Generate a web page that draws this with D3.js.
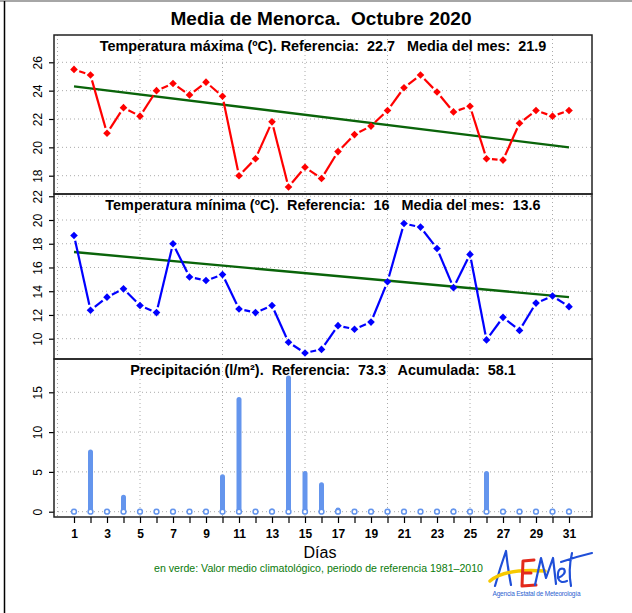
<!DOCTYPE html>
<html>
<head>
<meta charset="utf-8">
<script src="https://cdn.jsdelivr.net/npm/d3@7"></script>
<style>
    body { margin: 0; background: #ffffff; }
    text { font-family: "Liberation Sans", Arial, sans-serif; white-space: pre; }
</style>
</head>
<body>
<svg id="chart" width="632" height="613"></svg>
<script>
// Days of the month
var days = d3.range(1, 32);

// Daily maximum temperature (ºC)
var tmax = [25.5, 25.1, 21.0, 22.8, 22.2, 24.0, 24.5, 23.7, 24.6, 23.6,
            18.0, 19.2, 21.8, 17.2, 18.6, 17.8, 19.7, 20.9, 21.5, 22.6,
            24.2, 25.1, 23.9, 22.5, 22.9, 19.2, 19.1, 21.7, 22.6, 22.2, 22.6];

// Daily minimum temperature (ºC)
var tmin = [18.7, 12.4, 13.5, 14.2, 12.8, 12.2, 18.0, 15.2, 14.9, 15.4,
            12.5, 12.2, 12.8, 9.7, 8.8, 9.1, 11.1, 10.8, 11.4, 14.8,
            19.7, 19.4, 17.6, 14.3, 17.1, 9.9, 11.8, 10.7, 13.0, 13.6, 12.7];

// Daily precipitation (l/m2)
var precip = [0, 7.5, 0, 1.8, 0, 0, 0, 0, 0, 4.4,
              14.1, 0, 0.1, 16.8, 4.8, 3.4, 0.2, 0, 0, 0,
              0, 0, 0, 0.1, 0, 4.8, 0, 0, 0, 0, 0.1];

// Climatological reference (green line), first and last day
var normalDays = [1, 31];
var tmaxNormal = [24.3, 20.0];
var tminNormal = [17.3, 13.5];

// Tick values
var tmaxTicks = [18, 20, 22, 24, 26];
var tminTicks = [10, 12, 14, 16, 18, 20, 22];
var precipTicks = [0, 5, 10, 15];
var gridDays = [0, 5, 10, 15, 20, 25, 30];

// Texts
var mainTitle = "Media de Menorca.  Octubre 2020";
var panelTitles = [
    "Temperatura máxima (ºC). Referencia:  22.7   Media del mes:  21.9",
    "Temperatura mínima (ºC).  Referencia:  16   Media del mes:  13.6",
    "Precipitación (l/m²).  Referencia:  73.3   Acumulada:  58.1"
];

var svg = d3.select("#chart");

var plotLeft = 54;
var plotRight = 592;

// Panels (top, bottom in pixels)
var panels = [
    { top: 35, bottom: 194 },
    { top: 194, bottom: 359 },
    { top: 359, bottom: 517 }
];

var xScale = d3.scaleLinear()
    .domain([1, 31])
    .range([74, 569]);

var yMax = d3.scaleLinear().domain([18, 26]).range([175.7, 62.3]);
var yMin = d3.scaleLinear().domain([10, 20]).range([338.7, 220]);
var yPrec = d3.scaleLinear().domain([0, 15]).range([511.7, 392.3]);

// Outer border of the image
svg.append("line")
    .attr("x1", 0).attr("x2", 632).attr("y1", 1).attr("y2", 1)
    .attr("stroke", "#888").attr("stroke-width", 1.5);
svg.append("line")
    .attr("x1", 4.5).attr("x2", 4.5).attr("y1", 1).attr("y2", 613)
    .attr("stroke", "#000").attr("stroke-width", 1.5);

// Main title
svg.append("text")
    .attr("x", 321)
    .attr("y", 25)
    .attr("text-anchor", "middle")
    .attr("font-size", 19)
    .attr("font-weight", "bold")
    .text(mainTitle);

function drawGrid(panel, yScale, ticks) {
    /*
    Draws the dotted grid of one panel
    */
    var grid = svg.append("g").attr("class", "grid");

    grid.selectAll(".vgrid")
        .data(gridDays)
        .enter()
        .append("line")
        .attr("x1", function(d) { return xScale(d); })
        .attr("x2", function(d) { return xScale(d); })
        .attr("y1", panel.top)
        .attr("y2", panel.bottom)
        .attr("stroke", "#aaa")
        .attr("stroke-width", 1)
        .attr("stroke-dasharray", "1,3");

    grid.selectAll(".hgrid")
        .data(ticks)
        .enter()
        .append("line")
        .attr("x1", plotLeft)
        .attr("x2", plotRight)
        .attr("y1", function(d) { return yScale(d); })
        .attr("y2", function(d) { return yScale(d); })
        .attr("stroke", "#aaa")
        .attr("stroke-width", 1)
        .attr("stroke-dasharray", "1,3");
}

function drawYAxis(yScale, ticks) {
    /*
    Draws a left axis with rotated labels
    */
    var axis = svg.append("g")
        .attr("class", "axis")
        .attr("transform", `translate(${plotLeft}, 0)`)
        .call(d3.axisLeft(yScale).tickValues(ticks).tickSize(5).tickSizeOuter(0));

    axis.select(".domain").remove();
    axis.selectAll("line").attr("stroke", "#000").attr("stroke-width", 1.2);
    axis.selectAll("text")
        .attr("x", 0)
        .attr("dy", 0)
        .attr("transform", "translate(-12, 0) rotate(-90)")
        .attr("text-anchor", "middle")
        .attr("font-size", 12)
        .attr("font-family", "Liberation Sans, Arial, sans-serif")
        .attr("fill", "#000");
}

function drawTitle(panel, text, dy) {
    svg.append("text")
        .attr("x", (plotLeft + plotRight) / 2)
        .attr("y", panel.top + dy)
        .attr("text-anchor", "middle")
        .attr("font-size", 14.4)
        .attr("font-weight", "bold")
        .text(text);
}

function diamond(x, y, r) {
    return `M${x},${y - r}L${x + r},${y}L${x},${y + r}L${x - r},${y}Z`;
}

function drawSeries(values, yScale, colour) {
    /*
    Draws a line with gaps around the points (R type "b")
    */
    var gap = 5.5;
    var pairs = d3.pairs(values.map(function(v, i) {
        return [xScale(days[i]), yScale(v)];
    }));

    svg.append("g").selectAll("line")
        .data(pairs.filter(function(p) {
            return Math.hypot(p[1][0] - p[0][0], p[1][1] - p[0][1]) > 2 * gap;
        }))
        .enter()
        .append("line")
        .attr("x1", function(p) {
            var len = Math.hypot(p[1][0] - p[0][0], p[1][1] - p[0][1]);
            return p[0][0] + (p[1][0] - p[0][0]) * gap / len;
        })
        .attr("y1", function(p) {
            var len = Math.hypot(p[1][0] - p[0][0], p[1][1] - p[0][1]);
            return p[0][1] + (p[1][1] - p[0][1]) * gap / len;
        })
        .attr("x2", function(p) {
            var len = Math.hypot(p[1][0] - p[0][0], p[1][1] - p[0][1]);
            return p[1][0] - (p[1][0] - p[0][0]) * gap / len;
        })
        .attr("y2", function(p) {
            var len = Math.hypot(p[1][0] - p[0][0], p[1][1] - p[0][1]);
            return p[1][1] - (p[1][1] - p[0][1]) * gap / len;
        })
        .attr("stroke", colour)
        .attr("stroke-width", 2.2);

    svg.append("g").selectAll("path")
        .data(values)
        .enter()
        .append("path")
        .attr("d", function(v, i) { return diamond(xScale(days[i]), yScale(v), 3.8); })
        .attr("fill", colour);
}

function drawNormal(values, yScale) {
    var line = d3.line()
        .x(function(v, i) { return xScale(normalDays[i]); })
        .y(function(v) { return yScale(v); });

    svg.append("path")
        .datum(values)
        .attr("d", line)
        .attr("fill", "none")
        .attr("stroke", "#0a640a")
        .attr("stroke-width", 2.4);
}

// Panel 1: maximum temperature
drawGrid(panels[0], yMax, tmaxTicks);
drawYAxis(yMax, tmaxTicks);
drawTitle(panels[0], panelTitles[0], 15.5);
drawNormal(tmaxNormal, yMax);
drawSeries(tmax, yMax, "#ff0000");

// Panel 2: minimum temperature
drawGrid(panels[1], yMin, tminTicks);
drawYAxis(yMin, tminTicks);
drawTitle(panels[1], panelTitles[1], 16);
drawNormal(tminNormal, yMin);
drawSeries(tmin, yMin, "#0000ff");

// Panel 3: precipitation
drawGrid(panels[2], yPrec, precipTicks);
drawYAxis(yPrec, precipTicks);
drawTitle(panels[2], panelTitles[2], 16);

var barColour = "#6495ed";

svg.append("g").selectAll("line")
    .data(precip.map(function(v, i) { return { day: days[i], value: v }; })
        .filter(function(d) { return d.value > 0; }))
    .enter()
    .append("line")
    .attr("x1", function(d) { return xScale(d.day); })
    .attr("x2", function(d) { return xScale(d.day); })
    .attr("y1", yPrec(0))
    .attr("y2", function(d) { return yPrec(d.value); })
    .attr("stroke", barColour)
    .attr("stroke-width", 5)
    .attr("stroke-linecap", "round");

svg.append("g").selectAll("circle")
    .data(precip)
    .enter()
    .append("circle")
    .attr("cx", function(v, i) { return xScale(days[i]); })
    .attr("cy", yPrec(0))
    .attr("r", 2.4)
    .attr("fill", "#ffffff")
    .attr("stroke", barColour)
    .attr("stroke-width", 1.5);

// Panel frames
panels.forEach(function(panel) {
    svg.append("rect")
        .attr("x", plotLeft)
        .attr("y", panel.top)
        .attr("width", plotRight - plotLeft)
        .attr("height", panel.bottom - panel.top)
        .attr("fill", "none")
        .attr("stroke", "#222")
        .attr("stroke-width", 1.5);
});

// x-axis
var xAxis = svg.append("g")
    .attr("transform", `translate(0, ${panels[2].bottom})`)
    .call(d3.axisBottom(xScale)
        .tickValues(days)
        .tickSize(6)
        .tickPadding(6)
        .tickFormat(function(d) { return d % 2 === 1 ? d : ""; }));

xAxis.select(".domain").remove();
xAxis.selectAll("line").attr("stroke", "#000").attr("stroke-width", 1.2);
xAxis.selectAll("text")
    .attr("font-size", 12)
    .attr("font-weight", "bold")
    .attr("font-family", "Liberation Sans, Arial, sans-serif")
    .attr("fill", "#000");

// x label
svg.append("text")
    .attr("x", 320)
    .attr("y", 558)
    .attr("text-anchor", "middle")
    .attr("font-size", 16)
    .text("Días");

// Green footnote
svg.append("text")
    .attr("x", 318.5)
    .attr("y", 572)
    .attr("text-anchor", "middle")
    .attr("font-size", 10.6)
    .attr("fill", "#0a7a0a")
    .text("en verde: Valor medio climatológico, periodo de referencia 1981\u20132010");

// AEMet logo
var logo = svg.append("g").attr("fill", "none").attr("stroke-linecap", "round").attr("stroke-linejoin", "round");
logo.append("path")
    .attr("d", "M495,586 Q500,568 506,551 Q508,570 511,585")
    .attr("stroke", "#1f4fd8").attr("stroke-width", 2.2);
logo.append("path")
    .attr("d", "M490,581 Q505,568 545,571")
    .attr("stroke", "#f6c800").attr("stroke-width", 3.5);
logo.append("path")
    .attr("d", "M534,560 L523,561 L522,586 L536,585 M523,573 L531,573")
    .attr("stroke", "#e32a1c").attr("stroke-width", 3);
logo.append("path")
    .attr("d", "M535,585 L541,558 L546,578 L553,558 L556,584 M558,578 Q567,574 564,569 Q557,567 558,578 Q560,584 567,581 M571,586 Q568,570 572,553 M561,562 Q575,557 592,553")
    .attr("stroke", "#1f4fd8").attr("stroke-width", 2.2);
svg.append("text")
    .attr("x", 492.5)
    .attr("y", 596)
    .attr("font-size", 6.5)
    .attr("textLength", 88)
    .attr("fill", "#2d62d0")
    .text("Agencia Estatal de Meteorología");
</script>
</body>
</html>
